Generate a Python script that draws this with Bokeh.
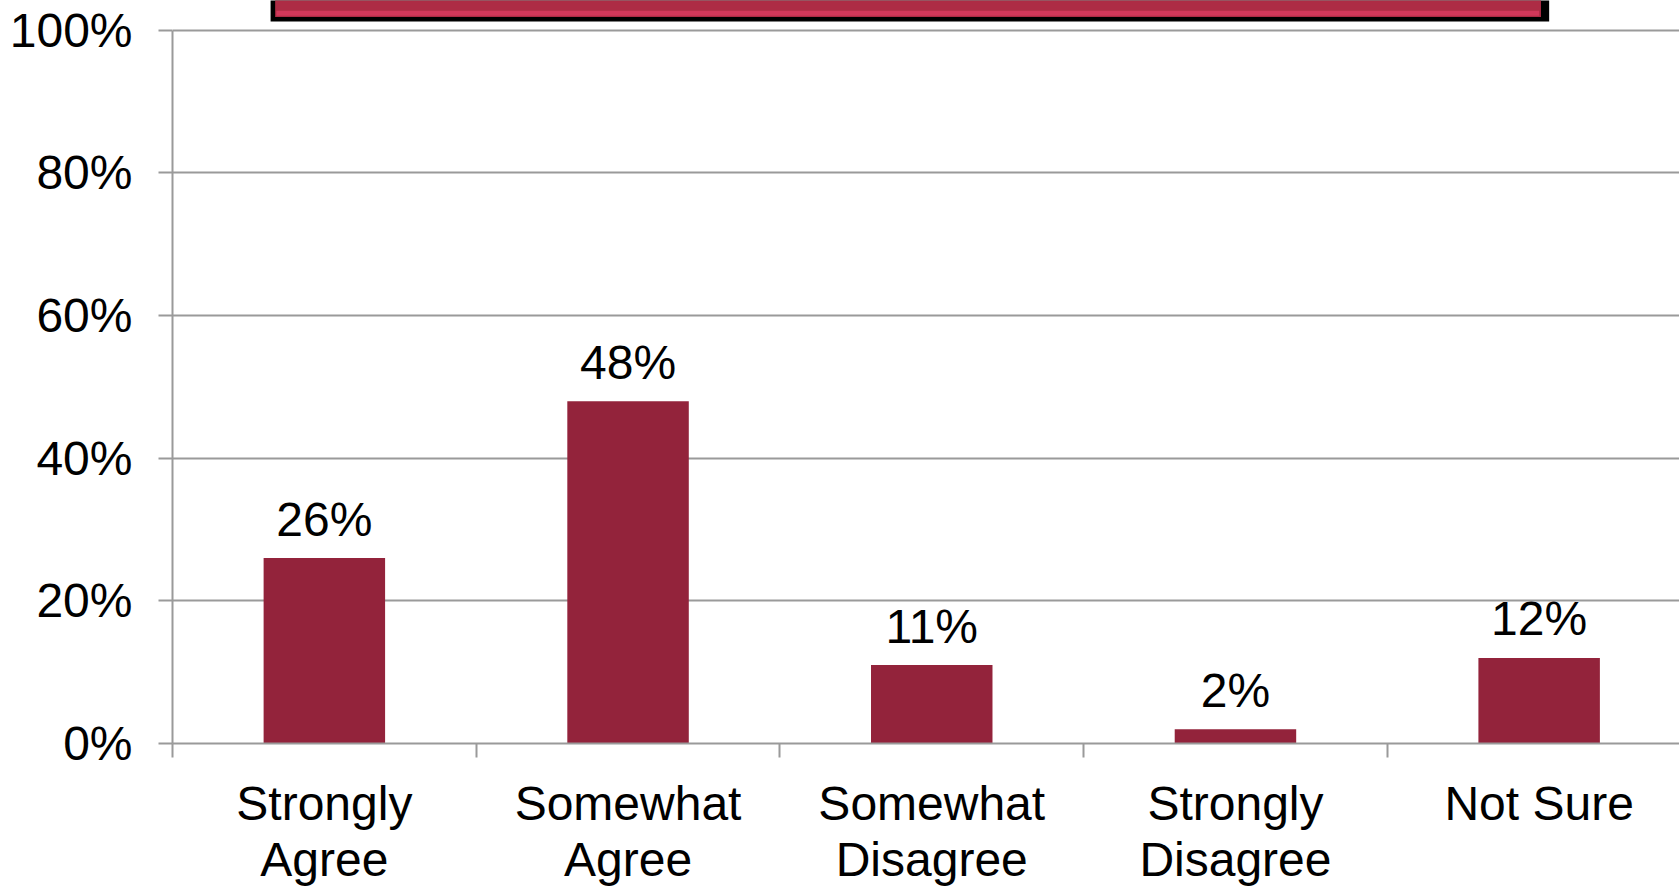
from bokeh.plotting import figure
from bokeh.models import FixedTicker, ColumnDataSource, Range1d
from bokeh.core.properties import value
from bokeh.embed import file_html
from bokeh.resources import INLINE

categories = ["Strongly\nAgree", "Somewhat\nAgree", "Somewhat\nDisagree", "Strongly\nDisagree", "Not Sure"]
values = [26, 48, 11, 2, 12]
value_labels = ["26%", "48%", "11%", "2%", "12%"]
y_ticks = [0, 20, 40, 60, 80, 100]
y_tick_labels = ["0%", "20%", "40%", "60%", "80%", "100%"]

FONT = "Liberation Sans"
BAR = "#93233B"
GRID = "#9A9A9A"

xs = list(range(len(categories)))
src = ColumnDataSource(dict(x=xs, top=values, lab=value_labels))

W, H = 1679, 888
p = figure(width=W, height=H, output_backend="svg", toolbar_location=None,
           x_range=Range1d(-0.5, -0.5 + (W - 172) / 303.7), y_range=Range1d(0, 104.18),
           min_border_left=172, min_border_right=0, min_border_top=0, min_border_bottom=H - 748)
p.outline_line_color = None
p.background_fill_color = "white"
p.border_fill_color = "white"

# decorative title banner (cut off at top of reference)
p.quad(left=-0.177, right=4.033, bottom=101.25, top=110, fill_color="black", line_color=None)
p.quad(left=-0.162, right=4.006, bottom=101.85, top=110, fill_color="#AD2C45", line_color=None)
p.quad(left=-0.158, right=4.0, bottom=102.05, top=102.75, fill_color="#D2385A", line_color=None)

p.vbar(x="x", top="top", width=0.4, source=src, fill_color=BAR, line_color=None)
p.text(x="x", y="top", text="lab", source=src, text_align="center", text_baseline="alphabetic",
       y_offset=-39, text_font=value(FONT), text_font_size="48px", text_color="black")

# y axis
p.yaxis.ticker = FixedTicker(ticks=y_ticks)
p.yaxis.major_label_overrides = {t: l for t, l in zip(y_ticks, y_tick_labels)}
p.yaxis.bounds = (0, 100)
p.yaxis.axis_line_color = GRID
p.yaxis.axis_line_width = 2
p.yaxis.major_tick_line_color = GRID
p.yaxis.major_tick_line_width = 2
p.yaxis.major_tick_out = 14
p.yaxis.major_tick_in = 0
p.yaxis.minor_tick_line_color = None
p.yaxis.major_label_standoff = 26
p.yaxis.major_label_text_font = FONT
p.yaxis.major_label_text_font_size = "48px"
p.yaxis.major_label_text_color = "black"

# x axis
p.xaxis.ticker = FixedTicker(ticks=xs, minor_ticks=[i - 0.5 for i in range(len(categories) + 1)])
p.xaxis.major_label_overrides = {i: c for i, c in zip(xs, categories)}
p.xaxis.axis_line_color = GRID
p.xaxis.axis_line_width = 2
p.xaxis.major_tick_line_color = None
p.xaxis.major_tick_out = 0
p.xaxis.major_tick_in = 0
p.xaxis.minor_tick_line_color = GRID
p.xaxis.minor_tick_line_width = 2
p.xaxis.minor_tick_out = 14
p.xaxis.minor_tick_in = 0
p.xaxis.major_label_standoff = 19
p.xaxis.major_label_text_font = FONT
p.xaxis.major_label_text_font_size = "48px"
p.xaxis.major_label_text_color = "black"
p.xaxis.major_label_text_line_height = 1.06

p.xgrid.grid_line_color = None
p.ygrid.ticker = FixedTicker(ticks=y_ticks)
p.ygrid.grid_line_color = GRID
p.ygrid.grid_line_width = 2

open("out.html", "w").write(file_html(p, INLINE))
